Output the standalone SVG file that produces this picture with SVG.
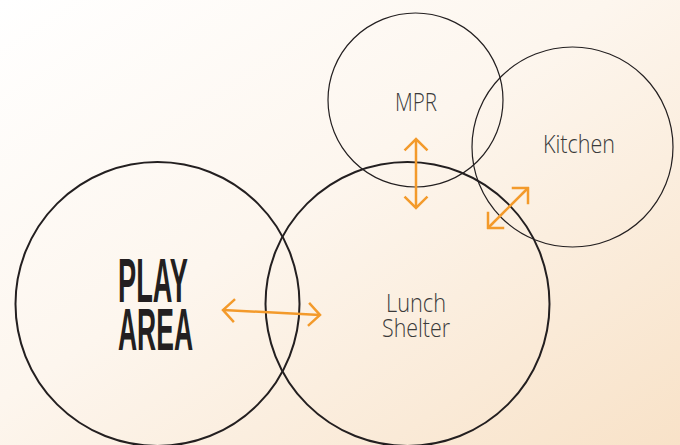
<svg xmlns="http://www.w3.org/2000/svg" width="680" height="445" viewBox="0 0 680 445">
<defs>
<linearGradient id="bg" x1="0" y1="0" x2="1" y2="1">
<stop offset="0" stop-color="#ffffff"/>
<stop offset="0.45" stop-color="#fdf6ee"/>
<stop offset="1" stop-color="#f8e2c8"/>
</linearGradient>
<marker id="head" markerUnits="userSpaceOnUse" viewBox="-14 -14 16 28" refX="0" refY="0" markerWidth="16" markerHeight="28" orient="auto-start-reverse">
<path d="M-10.6,-10.6 L0,0 L-10.6,10.6" fill="none" stroke="#f39a2b" stroke-width="2.5" stroke-linecap="square"/>
</marker>
<style>
.big{fill:none;stroke:#231f20;stroke-width:2}
.small{fill:none;stroke:#231f20;stroke-width:1.2}
.lbl{font-family:"Open Sans","Liberation Sans",sans-serif;font-weight:300;fill:#3a3a3a;text-anchor:middle}
.play{font-family:"Liberation Sans",Arial,sans-serif;font-weight:bold;fill:#231f20}
.arr{fill:none;stroke:#f39a2b;stroke-width:2.5;marker-start:url(#head);marker-end:url(#head)}
</style>
</defs>
<rect x="0" y="0" width="680" height="445" fill="url(#bg)"/>
<g id="play-area">
<ellipse class="big" cx="157.5" cy="304" rx="142" ry="142"/>
<text class="play" x="118" y="302" font-size="63" textLength="70" lengthAdjust="spacingAndGlyphs">PLAY</text>
<text class="play" x="118" y="350" font-size="60" textLength="75" lengthAdjust="spacingAndGlyphs">AREA</text>
</g>
<g id="lunch-shelter">
<ellipse class="big" cx="407.5" cy="304" rx="142" ry="142"/>
<text class="lbl" x="416" y="312" font-size="25" textLength="60" lengthAdjust="spacingAndGlyphs">Lunch</text>
<text class="lbl" x="416" y="337" font-size="25" textLength="68" lengthAdjust="spacingAndGlyphs">Shelter</text>
</g>
<g id="mpr">
<ellipse class="small" cx="415.5" cy="100" rx="87.5" ry="87"/>
<text class="lbl" x="416" y="111" font-size="25" textLength="42" lengthAdjust="spacingAndGlyphs">MPR</text>
</g>
<g id="kitchen">
<ellipse class="small" cx="572.5" cy="147" rx="100.5" ry="100"/>
<text class="lbl" x="579" y="153" font-size="25" textLength="72" lengthAdjust="spacingAndGlyphs">Kitchen</text>
</g>
<g id="connectors">
<path class="arr" d="M223,310 L320,315"/>
<path class="arr" d="M416,139 L416,208"/>
<path class="arr" d="M488,228 L528,188"/>
</g>
</svg>
